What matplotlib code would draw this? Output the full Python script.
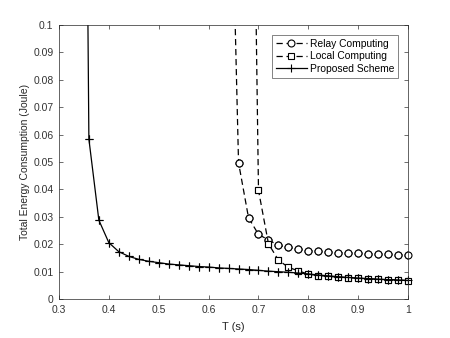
import numpy as np
import matplotlib
matplotlib.use('Agg')
import matplotlib.pyplot as plt

plt.rcParams['font.family'] = ['Liberation Sans', 'DejaVu Sans']

# Proposed scheme
t_prop = [0.34, 0.36, 0.38, 0.40, 0.42, 0.44, 0.46, 0.48, 0.50, 0.52, 0.54, 0.56, 0.58,
          0.60, 0.62, 0.64, 0.66, 0.68, 0.70, 0.72, 0.74, 0.76, 0.78, 0.80, 0.82,
          0.84, 0.86, 0.88, 0.90, 0.92, 0.94, 0.96, 0.98, 1.00]
e_prop = [0.5, 0.0584, 0.0288, 0.0206, 0.0173, 0.0156, 0.0145, 0.0138, 0.0133, 0.0128,
          0.0125, 0.0122, 0.0119, 0.0117, 0.0114, 0.0112, 0.0110, 0.0108, 0.0105,
          0.0102, 0.0100, 0.0098, 0.0095, 0.0092, 0.0088, 0.0085, 0.0082, 0.0079,
          0.0077, 0.0075, 0.0073, 0.0071, 0.0070, 0.0068]

# Relay computing
t_relay = [0.64, 0.66, 0.68, 0.70, 0.72, 0.74, 0.76, 0.78, 0.80, 0.82, 0.84, 0.86,
           0.88, 0.90, 0.92, 0.94, 0.96, 0.98, 1.00]
e_relay = [0.2, 0.0498, 0.0297, 0.0236, 0.0216, 0.0196, 0.0189, 0.0182, 0.0177,
           0.0174, 0.0172, 0.0170, 0.0168, 0.0167, 0.0165, 0.0164, 0.0163, 0.0162, 0.0161]

# Local computing
t_local = [0.68, 0.70, 0.72, 0.74, 0.76, 0.78, 0.80, 0.82, 0.84, 0.86, 0.88, 0.90,
           0.92, 0.94, 0.96, 0.98, 1.00]
e_local = [0.3, 0.0397, 0.0202, 0.0142, 0.0116, 0.0103, 0.0091, 0.0086, 0.0083,
           0.0080, 0.0078, 0.0076, 0.0074, 0.0072, 0.0071, 0.0070, 0.0067]

fig = plt.figure(figsize=(4.5, 3.38), dpi=100)
ax = fig.add_axes([0.131, 0.115, 0.776, 0.811])

dash = (0, (5, 3))
series = [
    (t_relay, e_relay, dash, 'o', 5, 'Relay Computing'),
    (t_local, e_local, dash, 's', 4, 'Local Computing'),
    (t_prop, e_prop, '-', '+', 6, 'Proposed Scheme'),
]
for t, e, ls, mk, ms, lab in series:
    ax.plot(t, e, color='black', linestyle=ls, linewidth=0.9, marker=mk,
            markersize=ms, markerfacecolor='white', markeredgewidth=0.8, label=lab)
    # markers drawn again unclipped so the ones on the right edge stay whole
    ax.plot(t[1:], e[1:], color='black', linestyle='none', marker=mk, markersize=ms,
            markerfacecolor='white', markeredgewidth=0.8, clip_on=False)

ax.set_xlim(0.3, 1.0)
ax.set_ylim(0, 0.1)
ax.set_xticks(np.arange(0.3, 1.01, 0.1))
ax.set_xticklabels(['0.3', '0.4', '0.5', '0.6', '0.7', '0.8', '0.9', '1'])
ax.set_yticks(np.arange(0, 0.101, 0.01))
ax.set_yticklabels(['0', '0.01', '0.02', '0.03', '0.04', '0.05', '0.06', '0.07',
                    '0.08', '0.09', '0.1'])
ax.tick_params(direction='in', top=True, right=True, length=3, width=0.5,
               labelsize=7.5, colors='#333333', pad=4)
for s in ax.spines.values():
    s.set_linewidth(0.5)
    s.set_color('#262626')

ax.set_xlabel('T (s)', fontsize=8, color='#262626', labelpad=5)
ax.set_ylabel('Total Energy Consumption (Joule)', fontsize=7.5, color='#262626', labelpad=2)

leg = ax.legend(loc='upper right', fontsize=7.4, frameon=True, fancybox=False,
                edgecolor='#262626', handlelength=3.0, borderpad=0.35, labelspacing=0.25,
                handletextpad=0.3, borderaxespad=1.0)
leg.get_frame().set_linewidth(0.5)

fig.savefig('out.png', dpi=100)
